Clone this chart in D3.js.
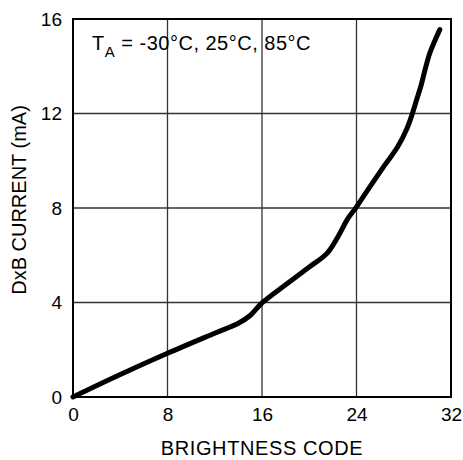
<!DOCTYPE html>
<meta charset="utf-8">
<body style="margin:0;background:#fff">
<style>
text { font-family: "Liberation Sans", Arial, sans-serif; fill: #000; }
.grid line { stroke: #333; stroke-width: 1.3px; }
.curve { fill: none; stroke: #000; stroke-width: 5px; stroke-linejoin: round; stroke-linecap: round; }
</style>
<script src="https://cdn.jsdelivr.net/npm/d3@7"></script>
<script>

// brightness code vs current (mA)
var code = [0, 4, 8, 12, 14, 15, 16, 18, 20, 21.5, 22.5, 23.2, 24, 25, 26.3, 27.5, 28.3, 28.7, 29.1, 29.5, 29.8, 30.2, 30.65, 31.05];
var current = [0, 0.95, 1.85, 2.7, 3.12, 3.45, 3.98, 4.75, 5.5, 6.08, 6.85, 7.5, 8.05, 8.8, 9.75, 10.6, 11.4, 11.95, 12.6, 13.25, 13.85, 14.55, 15.1, 15.55];
var xTicks = [0, 8, 16, 24, 32];
var yTicks = [0, 4, 8, 12, 16];

var W = 463, H = 460;
var pLeft = 73, pRight = 451, pTop = 19, pBottom = 397;

var svg = d3.select("body").append("svg")
    .attr("width", W)
    .attr("height", H);

var x = d3.scaleLinear().domain([0, 32]).range([pLeft, pRight]);
var y = d3.scaleLinear().domain([0, 16]).range([pBottom, pTop]);

// grid
var grid = svg.append("g").attr("class", "grid");
grid.selectAll(".vx")
    .data(xTicks.slice(1, -1))
  .enter().append("line")
    .attr("x1", function(d) { return x(d); })
    .attr("x2", function(d) { return x(d); })
    .attr("y1", pTop).attr("y2", pBottom);
grid.selectAll(".hy")
    .data(yTicks.slice(1, -1))
  .enter().append("line")
    .attr("y1", function(d) { return y(d); })
    .attr("y2", function(d) { return y(d); })
    .attr("x1", pLeft).attr("x2", pRight);

// frame
svg.append("rect")
    .attr("x", pLeft).attr("y", pTop)
    .attr("width", pRight - pLeft).attr("height", pBottom - pTop)
    .style("fill", "none").style("stroke", "#000").style("stroke-width", 2);

// axes (labels only)
var xAxis = svg.append("g")
    .attr("transform", "translate(0," + pBottom + ")")
    .call(d3.axisBottom(x).tickValues(xTicks).tickSize(0).tickPadding(11));
var yAxis = svg.append("g")
    .attr("transform", "translate(" + pLeft + ",0)")
    .call(d3.axisLeft(y).tickValues(yTicks).tickSize(0).tickPadding(11));
[xAxis, yAxis].forEach(function(a) {
  a.select(".domain").remove();
  a.attr("font-size", null).attr("font-family", null);
  a.selectAll("text").style("font-size", "19px").style("fill", "#000");
});

// curve
var pts = code.map(function(c, i) { return [c, current[i]]; });
svg.append("path")
    .datum(pts)
    .attr("class", "curve")
    .attr("d", d3.line()
      .x(function(d) { return x(d[0]); })
      .y(function(d) { return y(d[1]); })
      .curve(d3.curveCatmullRom.alpha(0.5)));

// titles
svg.append("text")
    .attr("x", (pLeft + pRight) / 2)
    .attr("y", 455)
    .attr("text-anchor", "middle")
    .style("font-size", "20px")
    .style("letter-spacing", "0.6px")
    .text("BRIGHTNESS CODE");

svg.append("text")
    .attr("transform", "translate(26,200) rotate(-90)")
    .attr("text-anchor", "middle")
    .style("font-size", "20px")
    .text("DxB CURRENT (mA)");

var note = svg.append("text")
    .attr("x", 92)
    .attr("y", 50)
    .style("font-size", "20px")
    .style("letter-spacing", "0.5px");
note.append("tspan").text("T");
note.append("tspan").attr("dy", 7).style("font-size", "15px").text("A");
note.append("tspan").attr("dy", -7).text(" = -30°C, 25°C, 85°C");

</script>
